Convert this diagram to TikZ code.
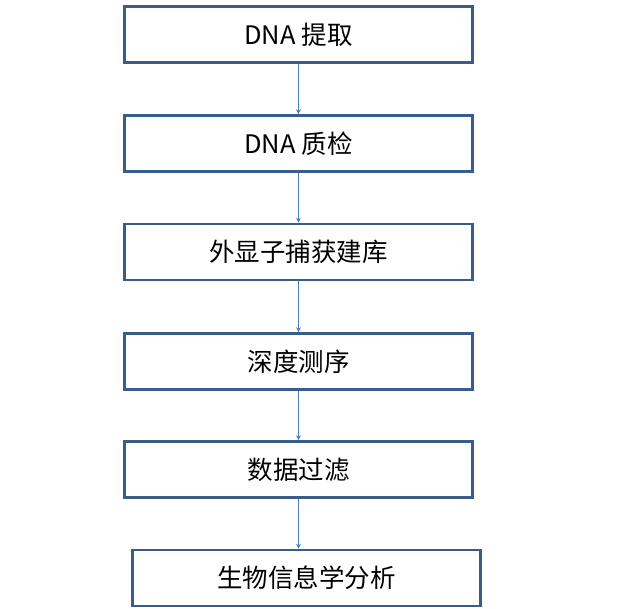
\documentclass[tikz,border=0pt]{standalone}
\usepackage{fontspec}
\setmainfont{Noto Sans CJK SC}
\usetikzlibrary{arrows.meta}
\definecolor{boxblue}{HTML}{385D8A}
\definecolor{linkblue}{HTML}{4A7EBB}
\tikzset{
  stepbox/.style={draw=boxblue, line width=2.6pt, fill=white,
    minimum width=348pt, minimum height=56pt, inner sep=0pt,
    font=\fontsize{25.5pt}{28pt}\selectfont},
  link/.style={->, draw=linkblue, line width=0.8pt}
}
\begin{document}
\begin{tikzpicture}[x=1pt,y=-1pt,>={Stealth[length=5pt,width=5pt]}]
  \useasboundingbox (0,0) rectangle (624,609);
  \node[stepbox] (extract) at (298.5,34.5) {DNA 提取};
  \node[stepbox] (qc) at (298.5,143.5) {DNA 质检};
  \node[stepbox] (capture) at (298.5,252) {外显子捕获建库};
  \node[stepbox] (seq) at (298.5,361.5) {深度测序};
  \node[stepbox] (filter) at (298.5,469.5) {数据过滤};
  \node[stepbox] (bioinfo) at (306.5,578) {生物信息学分析};
  % arrows between steps
  \draw[link] (extract) -- (qc);
  \draw[link] (qc) -- (capture);
  \draw[link] (capture) -- (seq);
  \draw[link] (seq) -- (filter);
  \draw[link] (filter.south) -- (filter.south |- bioinfo.north);
\end{tikzpicture}
\end{document}
